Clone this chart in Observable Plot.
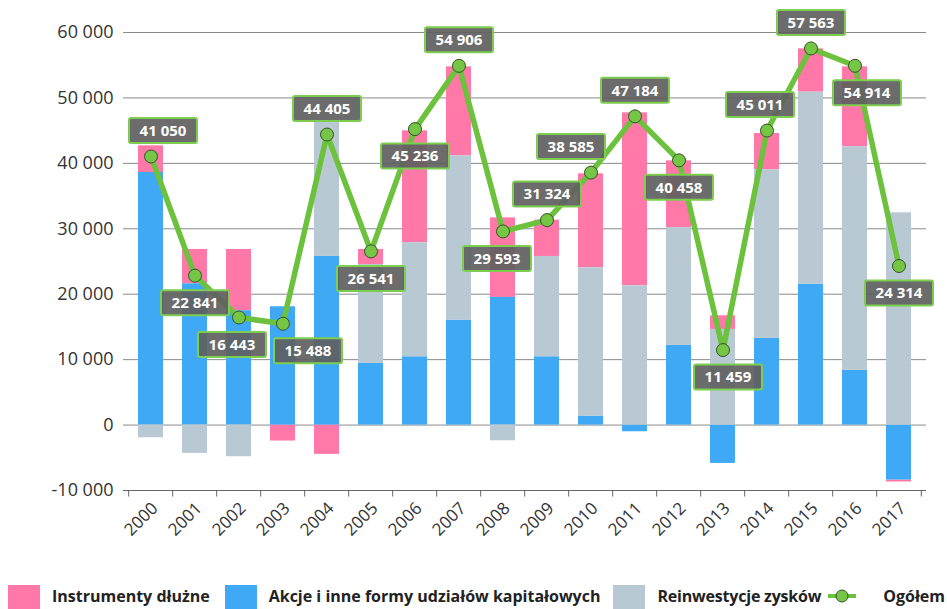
<!DOCTYPE html>
<html>
<head>
<meta charset="utf-8">
<script src="https://cdn.jsdelivr.net/npm/d3@7"></script>
<script src="https://cdn.jsdelivr.net/npm/@observablehq/plot@0.6"></script>
<style>
  html, body { margin: 0; padding: 0; background: #fff; width: 947px; height: 609px; overflow: hidden; }
  #chart { position: absolute; left: 0; top: 0; }
  #legend { position: absolute; left: 8px; top: 585px; display: flex; align-items: flex-start;
    font-family: "Open Sans", sans-serif; font-weight: bold; font-size: 16px; color: #222; white-space: nowrap; }
  .sw { width: 32px; height: 24px; margin-right: 12px; }
  .lab { margin-right: 15px; line-height: 22px; }
</style>
</head>
<body>
<div id="chart"></div>
<div id="legend"></div>
<script>
const years = ["2000","2001","2002","2003","2004","2005","2006","2007","2008","2009","2010","2011","2012","2013","2014","2015","2016","2017"];
const seriesNames = ["Instrumenty dłużne", "Akcje i inne formy udziałów kapitałowych", "Reinwestycje zysków"];
const totalName = "Ogółem";
// Instrumenty dłużne
const debt     = [4080, 5250, 9370, -2440, -4480, 2300, 17110, 13600, 12160, 5550, 14360, 26430, 10180, 2080, 5550, 6620, 12230, -300];
// Akcje i inne formy udziałów kapitałowych
const equity   = [38600, 21590, 17470, 18080, 25770, 9420, 10440, 16040, 19510, 10440, 1375, -1020, 12170, -5860, 13240, 21540, 8360, -8400];
// Reinwestycje zysków
const reinvest = [-1940, -4330, -4840, 0, 20570, 15120, 17420, 25110, -2400, 15330, 22665, 21290, 18030, 14620, 25770, 29340, 34160, 32440];
// Ogółem
const total    = [41050, 22841, 16443, 15488, 44405, 26541, 45236, 54906, 29593, 31324, 38585, 47184, 40458, 11459, 45011, 57563, 54914, 24314];
const yTicks   = [-10000, 0, 10000, 20000, 30000, 40000, 50000, 60000];
// label placement (layout, not data)
const labelSide  = ["up","down","down","down","up","down","down","up","down","up","up","up","down","down","up","up","down","down"];
const labelShift = [12, 0, -7, 25, 0, 0, 0, 0, -6, 0, -20, 0, 0, 5, -7, 0, 12, 0];

const colors = ["#ff78a8", "#3fa9f5", "#b9c9d3"];
const green = "#6cc13d";

const rows = [];
years.forEach((y, i) => {
  rows.push({year: y, series: seriesNames[0], value: debt[i]});
  rows.push({year: y, series: seriesNames[1], value: equity[i]});
  rows.push({year: y, series: seriesNames[2], value: reinvest[i]});
});
const totals = years.map((y, i) => ({year: y, total: total[i], side: labelSide[i], shift: labelShift[i]}));

const fmt = d3.formatLocale({decimal: ",", thousands: " ", grouping: [3], currency: ["", ""], minus: "-"}).format(",d");

const W = 947, H = 570, mL = 123, mR = 21, mT = 32, mB = 80;
const step = (W - mL - mR) / years.length;

const boxSym = {
  draw(ctx) {
    const w = 34, h = 12.5, r = 2;
    ctx.moveTo(-w + r, -h);
    ctx.lineTo(w - r, -h); ctx.arcTo(w, -h, w, -h + r, r);
    ctx.lineTo(w, h - r); ctx.arcTo(w, h, w - r, h, r);
    ctx.lineTo(-w + r, h); ctx.arcTo(-w, h, -w, h - r, r);
    ctx.lineTo(-w, -h + r); ctx.arcTo(-w, -h, -w + r, -h, r);
    ctx.closePath();
  }
};
const tickSym = { draw(ctx) { ctx.moveTo(0, 0); ctx.lineTo(0, 6); } };

const labelMarks = totals.flatMap(d => {
  const dy = d.side === "up" ? -26 : 27;
  return [
    Plot.dot([d], {x: "year", y: "total", symbol: boxSym, dx: d.shift, dy, fill: "#5f5f5f", fillOpacity: 0.92, stroke: "#7dcd50", strokeWidth: 2}),
    Plot.text([d], {x: "year", y: "total", text: t => fmt(t.total), dx: d.shift, dy: dy + 0.5, fill: "#fff", fontWeight: "bold", fontSize: 15, fontFamily: "Open Sans"})
  ];
});

const chart = Plot.plot({
  width: W, height: H,
  marginLeft: mL, marginRight: mR, marginTop: mT, marginBottom: mB,
  style: {fontFamily: "Open Sans", fontSize: "17px", color: "#333", background: "#fff"},
  x: {domain: years, paddingInner: 0.44, paddingOuter: 0.22, axis: null},
  y: {domain: [-10000, 60000], axis: null},
  color: {domain: seriesNames, range: colors},
  marks: [
    Plot.ruleY(yTicks.filter(v => v > -10000), {stroke: "#8a8a8a", strokeWidth: 1}),
    Plot.barY(rows, Plot.stackY({x: "year", y: "value", fill: "series", z: "series", order: [seriesNames[1], seriesNames[2], seriesNames[0]]})),
    Plot.ruleY([-10000], {stroke: "#666", strokeWidth: 1}),
    Plot.dot(years, {x: d => d, y: () => -10000, symbol: tickSym, dx: -step / 2, stroke: "#666", fill: "none", strokeWidth: 1}),
    Plot.dot([years[years.length - 1]], {x: d => d, y: () => -10000, symbol: tickSym, dx: step / 2, stroke: "#666", fill: "none", strokeWidth: 1}),
    Plot.line(totals, {x: "year", y: "total", stroke: green, strokeWidth: 5.5}),
    Plot.dot(totals, {x: "year", y: "total", r: 6.5, fill: "#76c645", stroke: "#35502a", strokeWidth: 1}),
    ...labelMarks,
    Plot.axisY({ticks: yTicks, tickFormat: fmt, tickSize: 0, tickPadding: 10, fontSize: 18, label: null}),
    Plot.axisX({tickRotate: -45, tickSize: 0, tickPadding: 15, fontSize: 17, dx: 4, label: null})
  ]
});
document.getElementById("chart").appendChild(chart);

// legend
const legend = document.getElementById("legend");
seriesNames.forEach((n, i) => {
  const sw = document.createElement("div");
  sw.className = "sw"; sw.style.background = colors[i];
  const lab = document.createElement("div");
  lab.className = "lab"; lab.textContent = n;
  if (i === 0) lab.style.marginRight = "15px";
  if (i === 1) lab.style.marginRight = "13px";
  if (i === 2) { lab.style.marginRight = "7px"; lab.style.letterSpacing = "-0.2px"; }
  legend.appendChild(sw); legend.appendChild(lab);
});
const ls = document.createElementNS("http://www.w3.org/2000/svg", "svg");
ls.setAttribute("width", 28); ls.setAttribute("height", 22); ls.style.marginRight = "27px";
ls.innerHTML = `<line x1="0" y1="11" x2="28" y2="11" stroke="${green}" stroke-width="4"/><circle cx="14" cy="11" r="6" fill="#76c645" stroke="#35502a" stroke-width="1"/>`;
legend.appendChild(ls);
const tl = document.createElement("div"); tl.className = "lab"; tl.textContent = totalName;
legend.appendChild(tl);
</script>
</body>
</html>
